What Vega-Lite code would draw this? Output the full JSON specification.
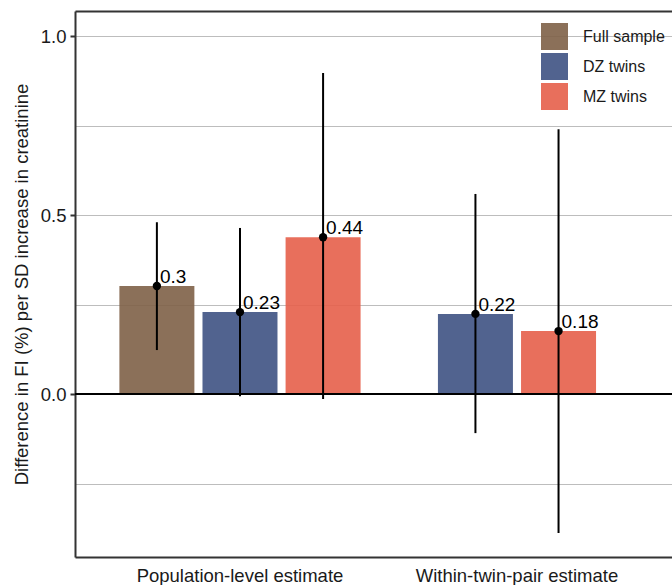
{
  "$schema": "https://vega.github.io/schema/vega-lite/v6.json",
  "width": 597,
  "height": 546,
  "autosize": {"type": "none"},
  "padding": {"left": 75, "top": 11, "right": 0, "bottom": 28},
  "config": {
    "view": {"stroke": null},
    "font": "Liberation Sans",
    "axis": {"labelFont": "Liberation Sans", "titleFont": "Liberation Sans"}
  },
  "data": {
    "values": [
      {"estimate": "Population-level estimate", "sample": "Full sample", "beta": 0.302, "lo": 0.123, "hi": 0.48},
      {"estimate": "Population-level estimate", "sample": "DZ twins", "beta": 0.229, "lo": -0.006, "hi": 0.464},
      {"estimate": "Population-level estimate", "sample": "MZ twins", "beta": 0.438, "lo": -0.014, "hi": 0.897},
      {"estimate": "Within-twin-pair estimate", "sample": "DZ twins", "beta": 0.224, "lo": -0.109, "hi": 0.559},
      {"estimate": "Within-twin-pair estimate", "sample": "MZ twins", "beta": 0.176, "lo": -0.388, "hi": 0.74}
    ]
  },
  "transform": [
    {"window": [{"op": "row_number", "as": "rank"}, {"op": "count", "as": "n"}], "groupby": ["estimate"], "frame": [null, null]},
    {"calculate": "(datum.rank - (datum.n + 1) / 2) * 0.3", "as": "dodge"},
    {"calculate": "format(datum.beta, '.2~f')", "as": "lab"}
  ],
  "encoding": {
    "x": {
      "field": "estimate", "type": "nominal", "title": null,
      "scale": {"paddingInner": 0, "paddingOuter": 0.0776, "align": 0.616},
      "axis": null
    },
    "y": {
      "type": "quantitative", "title": "Difference in FI (%) per SD increase in creatinine",
      "scale": {"domain": [-0.455, 1.07], "nice": false, "zero": false}
    }
  },
  "layer": [
    {
      "mark": {"type": "bar", "width": 75, "opacity": 0.9},
      "encoding": {
        "x": {
          "field": "estimate", "type": "nominal", "title": null,
          "axis": {"orient": "bottom", "labelAngle": 0, "ticks": false, "labelPadding": 9, "labelFontSize": 18.5, "labelLimit": 400, "labelColor": "#1a1a1a", "domainColor": "#333333", "domainWidth": 2, "grid": false}
        },
        "xOffset": {"field": "dodge", "type": "quantitative", "scale": {"domain": [-0.5, 0.5]}},
        "y": {
          "field": "beta", "type": "quantitative", "title": "Difference in FI (%) per SD increase in creatinine",
          "scale": {"domain": [-0.455, 1.07], "nice": false, "zero": false},
          "axis": {
            "values": [-0.25, 0, 0.25, 0.5, 0.75, 1.0],
            "labelExpr": "(abs(datum.value) % 0.5 < 0.001) ? format(datum.value, '.1f') : ''",
            "labelFontSize": 18.5, "labelColor": "#1a1a1a", "labelPadding": 4,
            "titleFontSize": 18.5, "titleFontWeight": "normal", "titleColor": "#1a1a1a", "titlePadding": 9,
            "domainColor": "#333333", "domainWidth": 2,
            "tickSize": 5, "tickWidth": 2,
            "tickColor": {"condition": {"test": "abs(datum.value) % 0.5 > 0.001", "value": "transparent"}, "value": "#333333"},
            "grid": true, "gridColor": "#bdbdbd", "gridWidth": 1
          }
        },
        "color": {
          "field": "sample", "type": "nominal",
          "scale": {"domain": ["Full sample", "DZ twins", "MZ twins"], "range": ["#7e6047", "#3e5283", "#e65f4a"]},
          "legend": {
            "title": null, "orient": "none", "legendX": 466, "legendY": 12,
            "symbolType": "square", "symbolSize": 729, "symbolStrokeWidth": 0, "symbolOpacity": 0.9,
            "labelFontSize": 16, "labelColor": "#1a1a1a", "labelOffset": 15, "rowPadding": 3, "padding": 0
          }
        }
      }
    },
    {
      "mark": {"type": "bar", "opacity": 0},
      "encoding": {
        "x": {
          "field": "estimate", "type": "nominal", "title": null,
          "axis": {"orient": "top", "labels": false, "ticks": false, "grid": false, "domainColor": "#333333", "domainWidth": 2}
        },
        "y": {"datum": 0}
      }
    },
    {
      "mark": {"type": "rule", "color": "black", "strokeWidth": 2},
      "encoding": {"y": {"datum": 0}, "x": null}
    },
    {
      "mark": {"type": "rule", "color": "black", "strokeWidth": 2},
      "encoding": {
        "xOffset": {"field": "dodge", "type": "quantitative", "scale": {"domain": [-0.5, 0.5]}},
        "y": {"field": "lo", "type": "quantitative"},
        "y2": {"field": "hi"}
      }
    },
    {
      "mark": {"type": "point", "filled": true, "color": "black", "size": 70, "opacity": 1},
      "encoding": {
        "xOffset": {"field": "dodge", "type": "quantitative", "scale": {"domain": [-0.5, 0.5]}},
        "y": {"field": "beta", "type": "quantitative"}
      }
    },
    {
      "mark": {"type": "text", "align": "left", "baseline": "alphabetic", "dx": 3, "dy": -3, "fontSize": 19, "color": "black"},
      "encoding": {
        "xOffset": {"field": "dodge", "type": "quantitative", "scale": {"domain": [-0.5, 0.5]}},
        "y": {"field": "beta", "type": "quantitative"},
        "text": {"field": "lab"}
      }
    }
  ],
  "resolve": {"axis": {"x": "independent"}}
}
